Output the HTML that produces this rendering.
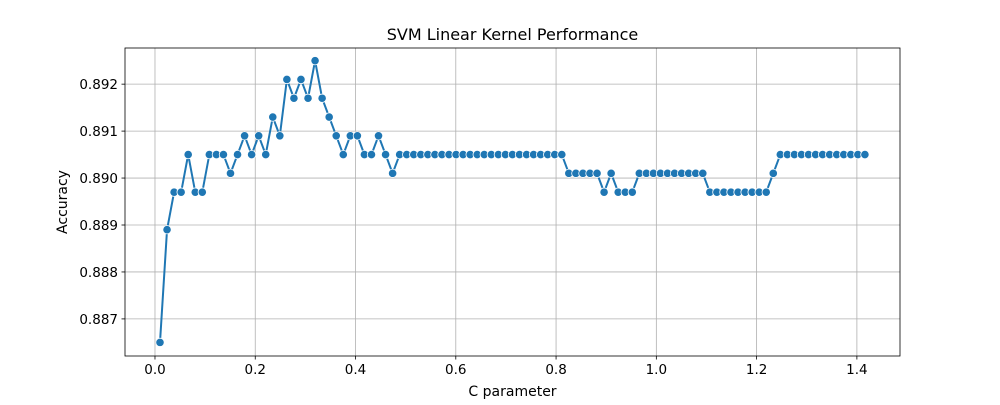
<!DOCTYPE html>
<html><head><meta charset="utf-8"><style>
body{margin:0;background:#fff}
svg text{font-family:"DejaVu Sans","Liberation Sans",sans-serif;fill:#000}
</style></head><body>
<svg id="chart" width="1000" height="400" xmlns="http://www.w3.org/2000/svg">
<rect width="1000" height="400" fill="#fff"/>
<g id="grid"></g>
<g id="ticks"></g>
<g id="series"></g>
<rect x="125" y="48" width="775" height="308" fill="none" stroke="#000" stroke-width="0.8"/>
<text x="512.5" y="40" text-anchor="middle" font-size="16">SVM Linear Kernel Performance</text>
<text x="512.5" y="396" text-anchor="middle" font-size="14">C parameter</text>
<text transform="translate(67,202) rotate(-90)" text-anchor="middle" font-size="14">Accuracy</text>
</svg>
<script>
const xTicks=[0.0,0.2,0.4,0.6,0.8,1.0,1.2,1.4];
const xTickLabels=["0.0","0.2","0.4","0.6","0.8","1.0","1.2","1.4"];
const yTicks=[0.887,0.888,0.889,0.890,0.891,0.892];
const yTickLabels=["0.887","0.888","0.889","0.890","0.891","0.892"];
const cStart=0.01, cStep=0.01406;
const accuracy=[
0.8865,0.8889,0.8897,0.8897,0.8905,0.8897,0.8897,0.8905,0.8905,0.8905,
0.8901,0.8905,0.8909,0.8905,0.8909,0.8905,0.8913,0.8909,0.8921,0.8917,
0.8921,0.8917,0.8925,0.8917,0.8913,0.8909,0.8905,0.8909,0.8909,0.8905,
0.8905,0.8909,0.8905,0.8901,0.8905,0.8905,0.8905,0.8905,0.8905,0.8905,
0.8905,0.8905,0.8905,0.8905,0.8905,0.8905,0.8905,0.8905,0.8905,0.8905,
0.8905,0.8905,0.8905,0.8905,0.8905,0.8905,0.8905,0.8905,0.8901,0.8901,
0.8901,0.8901,0.8901,0.8897,0.8901,0.8897,0.8897,0.8897,0.8901,0.8901,
0.8901,0.8901,0.8901,0.8901,0.8901,0.8901,0.8901,0.8901,0.8897,0.8897,
0.8897,0.8897,0.8897,0.8897,0.8897,0.8897,0.8897,0.8901,0.8905,0.8905,
0.8905,0.8905,0.8905,0.8905,0.8905,0.8905,0.8905,0.8905,0.8905,0.8905,
0.8905];
const cValues=accuracy.map((_,i)=>cStart+i*cStep);
const L=125,R=900,T=48,B=356;
const xMin=-0.0598,xMax=1.486,yMin=0.88621,yMax=0.89277;
const xs=v=>L+(v-xMin)/(xMax-xMin)*(R-L);
const ys=v=>B-(v-yMin)/(yMax-yMin)*(B-T);
const NS="http://www.w3.org/2000/svg";
function mk(tag,attrs,parent){const e=document.createElementNS(NS,tag);for(const k in attrs)e.setAttribute(k,attrs[k]);parent.appendChild(e);return e;}
const grid=document.getElementById('grid'),ticks=document.getElementById('ticks'),series=document.getElementById('series');
xTicks.forEach((v,i)=>{const x=xs(v);
 const g=mk('line',{x1:x,x2:x,y1:T,y2:B,stroke:'#b0b0b0','stroke-width':0.8},grid);
 
 
 mk('line',{x1:x,x2:x,y1:B,y2:B+3.5,stroke:'#000','stroke-width':0.8},ticks);
 const t=mk('text',{x:x,y:B+18,'text-anchor':'middle','font-size':13.5},ticks);t.textContent=xTickLabels[i];
 
 
});
yTicks.forEach((v,i)=>{const y=ys(v);
 const g=mk('line',{x1:L,x2:R,y1:y,y2:y,stroke:'#b0b0b0','stroke-width':0.8},grid);
 
 
 mk('line',{x1:L-3.5,x2:L,y1:y,y2:y,stroke:'#000','stroke-width':0.8},ticks);
 const t=mk('text',{x:L-7,y:y+5,'text-anchor':'end','font-size':13.5},ticks);t.textContent=yTickLabels[i];
 
 
});
const pts=accuracy.map((a,i)=>xs(cValues[i]).toFixed(2)+','+ys(a).toFixed(2)).join(' ');
const line=mk('polyline',{points:pts,fill:'none',stroke:'#1f77b4','stroke-width':2},series);


accuracy.forEach((a,i)=>{
 const c=mk('circle',{cx:xs(cValues[i]),cy:ys(a),r:4.2,fill:'#1f77b4',stroke:'#fff','stroke-width':0.8},series);
 
 
});
</script>
</body></html>
